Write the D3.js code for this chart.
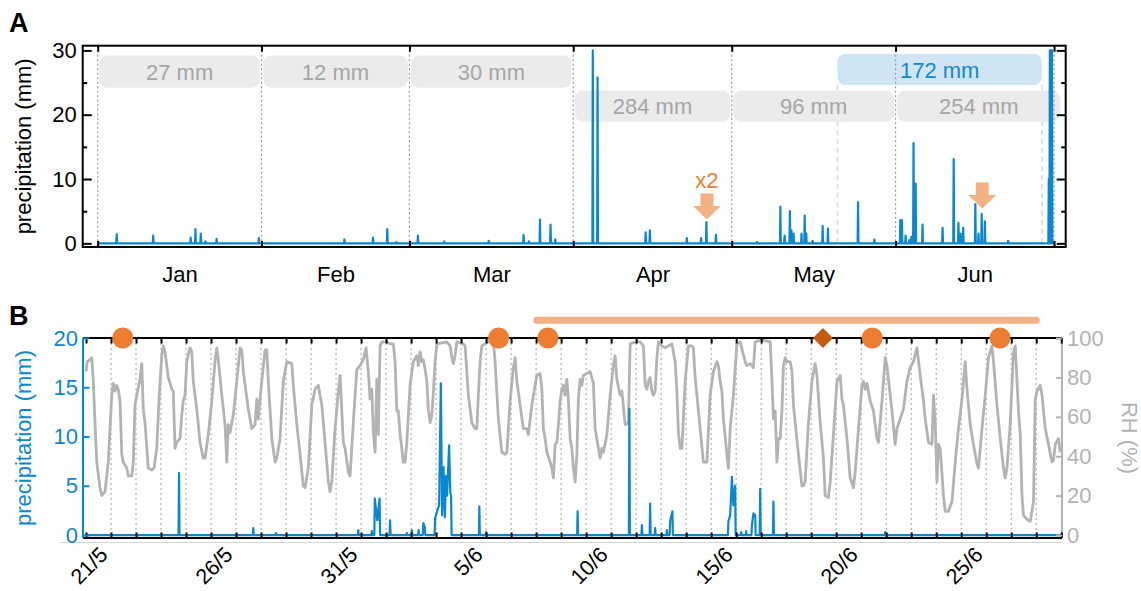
<!DOCTYPE html>
<html>
<head>
<meta charset="utf-8">
<script src="https://cdn.jsdelivr.net/npm/d3@7"></script>
<style>
  body { margin: 0; background: #fff; }
  svg { font-family: "Liberation Sans", Arial, Helvetica, sans-serif; }
</style>
</head>
<body>
<div id="container"></div>
<script>
/* DATA ########################################################### */
// Panel A: day of year (0 = 1 Jan, 00:00) of each rain peak, and its height (mm)
const rainDayA = [3.6, 10.5, 17.6, 18.5, 19.5, 20.4, 22.5, 30.5,
  46.7, 52.1, 54.8, 56.5,
  60.6, 65.6, 74.0, 80.6, 81.6, 83.7, 85.7, 86.6,
  93.7, 94.6, 103.7, 104.5, 111.5, 114.2, 115.2, 117.0,
  124.8, 129.2, 130.0, 131.0, 131.3, 131.7, 133.2, 133.8, 134.1, 135.3, 137.2, 138.2, 143.9, 147.0,
  151.9, 152.2, 152.9, 153.6, 154.0, 154.4, 154.8, 156.1, 159.9, 162.0, 162.9, 163.3, 163.8,
  166.1, 166.7, 167.3, 167.9, 172.3, 180.0, 180.2, 180.4, 180.6];
const rainMmA = [1.45, 1.2, 0.9, 2.2, 1.5, 0.3, 0.7, 0.8,
  0.6, 0.9, 2.2, 0.2,
  1.2, 0.3, 0.4, 1.3, 0.3, 3.7, 2.9, 0.6,
  30, 25.8, 1.7, 2.0, 0.8, 0.8, 3.3, 1.3,
  0.2, 5.7, 1.2, 5.0, 2.0, 1.5, 1.5, 4.3, 1.5, 0.4, 2.7, 2.3, 6.4, 0.6,
  3.6, 3.6, 1.2, 0.5, 1.0, 15.6, 9.3, 2.9, 2.4, 13.1, 3.2, 1.5, 2.4,
  6.1, 1.5, 4.6, 3.4, 0.4, 10, 30, 30, 30];

const monthNames = ["Jan", "Feb", "Mar", "Apr", "May", "Jun"];
const monthStart = [0, 31, 59, 90, 120, 151, 181];
const monthTotals = ["27 mm", "12 mm", "30 mm", "284 mm", "96 mm", "254 mm"];
const totalRow = [0, 0, 0, 1, 1, 1];
const lastBoxEnd = 182.2;
const fieldTotal = "172 mm";
const fieldRange = [140, 178.7];
const arrowDay = [115.3, 167.4];
const arrowTipMm = [3.7, 5.4];
const arrowText = ["x2", ""];

// Panel B: days since 21/5 00:00
const rhT = [-1.00, -0.95, -0.84, -0.77, -0.71, -0.64, -0.57, -0.44, -0.37, -0.24, -0.11,
  0.03, 0.09, 0.16, 0.23, 0.29, 0.36, 0.43, 0.49, 0.63, 0.69, 0.83, 0.89, 0.96,
  1.03, 1.16, 1.23, 1.29, 1.36, 1.49, 1.63, 1.72, 1.83, 1.93,
  2.03, 2.09, 2.16, 2.29, 2.43, 2.49, 2.56, 2.63, 2.76, 2.83, 2.89, 2.96,
  3.03, 3.16, 3.23, 3.29, 3.43, 3.56, 3.69, 3.76, 3.89,
  4.03, 4.16, 4.23, 4.29, 4.43, 4.56, 4.63, 4.69, 4.76, 4.89,
  5.03, 5.16, 5.23, 5.29, 5.49, 5.63, 5.76, 5.83, 5.89,
  6.03, 6.16, 6.23, 6.29, 6.43, 6.56, 6.63, 6.76, 6.89,
  7.03, 7.23, 7.29, 7.43, 7.56, 7.69, 7.76, 7.89,
  8.03, 8.16, 8.29, 8.43, 8.56, 8.69, 8.76, 8.83, 8.96,
  9.09, 9.16, 9.29, 9.36, 9.49, 9.56, 9.69, 9.83, 9.96,
  10.09, 10.20, 10.29, 10.36, 10.43, 10.49, 10.56, 10.63, 10.69, 10.76, 10.83,
  11.03, 11.16, 11.29, 11.36, 11.43, 11.49, 11.56, 11.63, 11.69, 11.76, 11.83, 11.96,
  12.03, 12.09, 12.23, 12.29, 12.36, 12.43, 12.49, 12.56, 12.63, 12.69, 12.76, 12.83, 12.89, 12.96,
  13.03, 13.43, 13.56, 13.63, 13.69, 13.76, 13.83,
  14.09, 14.16, 14.29, 14.43, 14.56, 14.63, 14.69, 14.76, 14.83, 14.96,
  15.09, 15.29, 15.36, 15.49, 15.63, 15.76, 15.83, 15.96,
  16.09, 16.16, 16.23, 16.36, 16.49, 16.63, 16.69, 16.83, 16.96,
  17.03, 17.16, 17.23, 17.29, 17.36, 17.43, 17.56, 17.63, 17.69, 17.76, 17.83, 17.89, 17.96,
  18.03, 18.09, 18.16, 18.23, 18.29, 18.36, 18.43, 18.49, 18.56, 18.63, 18.69, 18.76, 18.83, 18.89,
  19.03, 19.16, 19.29, 19.36, 19.49, 19.56, 19.63, 19.69, 19.83, 19.96,
  20.09, 20.16, 20.23, 20.36, 20.43, 20.56, 20.69, 20.76, 20.96,
  21.16, 21.29, 21.36, 21.43, 21.49, 21.56, 21.63, 21.69, 21.76, 21.83, 21.89,
  22.03, 22.16, 22.29, 22.43, 22.56, 22.63, 22.69, 22.76, 22.83, 22.96,
  23.09, 23.23, 23.29, 23.36, 23.56, 23.69, 23.83, 23.96,
  24.09, 24.23, 24.29, 24.36, 24.43, 24.49, 24.63, 24.69, 24.76, 24.89,
  25.03, 25.16, 25.36, 25.43, 25.56, 25.69, 25.76,
  26.03, 26.36, 26.43, 26.49, 26.56, 26.63, 26.69, 26.76, 26.83, 26.89, 26.96,
  27.03, 27.16, 27.23, 27.29, 27.36, 27.49, 27.63, 27.69, 27.76, 27.89,
  28.03, 28.16, 28.23, 28.36, 28.49, 28.56, 28.69, 28.76, 28.89,
  29.03, 29.16, 29.23, 29.29, 29.43, 29.56, 29.69, 29.76, 29.89,
  30.03, 30.09, 30.16, 30.23, 30.36, 30.49, 30.63, 30.69, 30.83, 30.96,
  31.03, 31.16, 31.23, 31.36, 31.43, 31.56, 31.69, 31.83, 31.96,
  32.09, 32.23, 32.36, 32.49, 32.56, 32.69, 32.83, 32.89, 32.96,
  33.03, 33.09, 33.16, 33.29, 33.36, 33.49, 33.63, 33.76, 33.89,
  34.03, 34.16, 34.23, 34.36, 34.49, 34.63, 34.69, 34.83, 34.96,
  35.09, 35.23, 35.29, 35.43, 35.56, 35.69, 35.76, 35.83, 35.96,
  36.09, 36.16, 36.29, 36.36, 36.43, 36.49, 36.63, 36.76, 36.89, 36.96,
  37.03, 37.16, 37.23, 37.36, 37.49, 37.63, 37.69, 37.76, 37.89, 37.96];
const rhVal = [83, 88, 89, 90, 79, 57, 37, 24, 20, 22, 37,
  71, 77, 73, 76, 74, 68, 41, 37, 34, 30, 30, 37, 66,
  71, 79, 87, 64, 57, 34, 33, 34, 44, 71,
  91, 96, 93, 80, 74, 73, 44, 47, 49, 61, 68, 71,
  88, 95, 93, 78, 64, 47, 39, 39, 51,
  68, 88, 95, 89, 71, 56, 37, 56, 52, 61,
  78, 95, 94, 83, 64, 54, 56, 69, 59,
  78, 94, 94, 78, 49, 37, 39, 49, 78,
  88, 87, 76, 56, 41, 25, 24, 34,
  66, 74, 76, 66, 47, 27, 22, 27, 54,
  73, 81, 47, 44, 32, 30, 57, 84, 86,
  89, 95, 83, 69, 74, 52, 42, 79, 51, 96, 98,
  98, 97, 97, 88, 63, 63, 51, 44, 37, 37, 47, 76,
  83, 88, 91, 86, 93, 88, 89, 84, 78, 64, 57, 61, 72, 88,
  97, 98, 96, 90, 87, 91, 98,
  97, 96, 71, 57, 54, 54, 71, 88, 96, 97,
  98, 98, 88, 59, 42, 41, 42, 68,
  85, 90, 78, 66, 54, 54, 51, 66, 76,
  81, 82, 74, 54, 49, 42, 37, 34, 29, 46, 47, 56, 68,
  74, 76, 71, 79, 69, 49, 44, 34, 27, 41, 69, 79, 76, 81,
  82, 83, 77, 54, 44, 39, 44, 42, 51, 71,
  86, 91, 79, 71, 73, 56, 57, 97, 98,
  98, 96, 76, 74, 78, 80, 73, 71, 73, 90, 98,
  96, 95, 96, 97, 88, 73, 52, 44, 44, 78,
  96, 96, 95, 80, 54, 37, 37, 71,
  83, 88, 86, 78, 73, 59, 41, 34, 54, 71,
  97, 98, 88, 86, 87, 85, 98,
  99, 98, 79, 59, 63, 37, 49, 49, 63, 86, 90,
  88, 88, 83, 66, 57, 41, 25, 25, 27, 57,
  78, 87, 81, 57, 39, 20, 19, 27, 51,
  78, 81, 69, 66, 49, 29, 24, 32, 54,
  76, 78, 74, 77, 68, 63, 49, 47, 68, 90,
  86, 71, 63, 46, 54, 59, 64, 78, 85,
  88, 95, 81, 68, 59, 47, 46, 71, 57,
  27, 46, 44, 20, 12, 12, 17, 37, 54,
  69, 88, 74, 56, 46, 36, 34, 54, 71,
  90, 96, 88, 66, 49, 34, 29, 34, 57,
  93, 96, 63, 51, 20, 10, 8, 7, 17, 69,
  73, 76, 71, 54, 46, 37, 38, 46, 49, 42];

const rainTB = [2.72, 5.69, 6.60, 9.89, 10.43, 10.55, 10.65, 10.74, 11.16, 11.83,
  12.03, 12.30, 12.49, 12.55, 12.96,
  13.05, 13.12, 13.19, 13.24, 13.30, 13.35, 13.40, 13.44, 13.52, 13.57, 13.60,
  14.73, 15.00, 18.66, 20.73, 21.23, 21.56, 21.76, 22.23, 22.36, 22.45,
  24.69, 24.76, 24.83, 24.89, 24.96, 25.20, 25.40, 25.63, 25.69, 25.76, 25.96, 26.49, 30.96];
const rainMmB = [6.3, 0.7, 0.2, 0.5, 0.4, 3.7, 1.5, 3.7, 1.5, 0.2,
  0.5, 0.5, 1.2, 0.8, 1.7,
  2.5, 3.0, 15.4, 2.0, 6.9, 1.8, 6.0, 4.0, 9.1, 4.2, 4.0,
  2.9, 0.3, 2.4, 12.8, 1.0, 3.2, 0.7, 0.5, 1.4, 2.4,
  1.4, 2.0, 5.9, 3.0, 5.0, 0.3, 0.4, 1.0, 2.2, 2.0, 4.7, 3.4, 0.3];

const dayLabelT = [0, 5, 10, 15, 20, 25, 30, 35];
const dayLabels = ["21/5", "26/5", "31/5", "5/6", "10/6", "15/6", "20/6", "25/6"];
const circleT = [0.47, 15.5, 17.47, 30.44, 35.55];
const diamondT = [28.47];
const campaignT = [17.03, 37.0];

/* CONSTANTS ####################################################### */
const width = 1141;
const height = 591;
const BLUE = "#0b87cf";
const GREY = "#b3b3b3";
const ORANGE = "#ed7d31";
const PEACH = "#f4b183";
const FS = 22;

const svg = d3
  .select("#container")
  .append("svg")
  .attr("width", width)
  .attr("height", height);

// spikes -> path points; back to zero only when the next peak is far enough away
function spikes(days, vals, start, end, dw, gapMin) {
  const pts = [[start, 0]];
  days.forEach((d, i) => {
    const prev = i > 0 ? days[i - 1] : -Infinity;
    const next = i < days.length - 1 ? days[i + 1] : Infinity;
    if (d - prev > gapMin) pts.push([d - dw, 0]);
    pts.push([d, vals[i]]);
    if (next - d > gapMin) pts.push([d + dw, 0]);
  });
  pts.push([end, 0]);
  return pts;
}

function styleAxis(g, color) {
  g.select(".domain").remove();
  g.attr("font-family", null).attr("font-size", FS);
  g.selectAll("line").attr("stroke", color).attr("stroke-width", 2);
  g.selectAll("text").attr("fill", color);
}

/* PANEL A ########################################################## */
const A = { left: 82.7, right: 1065.7, top: 45.7, bottom: 247 };
const xA = d3.scaleLinear().domain([-2.84, 183.2]).range([A.left, A.right]);
const yA = d3.scaleLinear().domain([-0.57, 30.73]).range([A.bottom, A.top]);

svg.append("clipPath").attr("id", "clipA").append("rect")
  .attr("x", A.left).attr("y", A.top)
  .attr("width", A.right - A.left).attr("height", A.bottom - A.top);

// dashed edges of the field campaign
svg.selectAll(".field-edge")
  .data(fieldRange)
  .join("line")
  .attr("class", "field-edge")
  .attr("x1", (d) => xA(d)).attr("x2", (d) => xA(d))
  .attr("y1", yA(24.6)).attr("y2", A.bottom)
  .attr("stroke", "#c4def0").attr("stroke-width", 1.5)
  .attr("stroke-dasharray", "5,4");

// monthly totals boxes
const rowTop = [29.2, 23.75];
const rowBottom = [24.2, 18.9];
const boxes = monthNames.map((m, i) => ({
  label: monthTotals[i],
  row: totalRow[i],
  x0: monthStart[i] + 0.3,
  x1: i < monthNames.length - 1 ? monthStart[i + 1] - 0.3 : lastBoxEnd,
}));

svg.selectAll(".total-box")
  .data(boxes)
  .join("rect")
  .attr("class", "total-box")
  .attr("x", (d) => xA(d.x0))
  .attr("y", (d) => yA(rowTop[d.row]))
  .attr("width", (d) => xA(d.x1) - xA(d.x0))
  .attr("height", (d) => yA(rowBottom[d.row]) - yA(rowTop[d.row]))
  .attr("rx", 8)
  .attr("fill", "#ebebeb");

svg.selectAll(".total-label")
  .data(boxes)
  .join("text")
  .attr("class", "total-label")
  .attr("x", (d) => (xA(d.x0) + xA(d.x1)) / 2)
  .attr("y", (d) => (yA(rowTop[d.row]) + yA(rowBottom[d.row])) / 2 + 8)
  .attr("text-anchor", "middle")
  .attr("font-size", FS)
  .attr("fill", "#a6a6a6")
  .text((d) => d.label);

// field campaign total
svg.append("rect")
  .attr("x", xA(fieldRange[0]))
  .attr("y", yA(29.45))
  .attr("width", xA(fieldRange[1]) - xA(fieldRange[0]))
  .attr("height", yA(24.6) - yA(29.45))
  .attr("rx", 8)
  .attr("fill", "#cfe5f4");
svg.append("text")
  .attr("x", (xA(fieldRange[0]) + xA(fieldRange[1])) / 2)
  .attr("y", (yA(29.45) + yA(24.6)) / 2 + 8)
  .attr("text-anchor", "middle")
  .attr("font-size", FS)
  .attr("fill", "#1488d0")
  .text(fieldTotal);

// month dividers
svg.selectAll(".month-line")
  .data(monthStart)
  .join("line")
  .attr("class", "month-line")
  .attr("x1", (d) => xA(d)).attr("x2", (d) => xA(d))
  .attr("y1", A.top).attr("y2", A.bottom)
  .attr("stroke", "#9a9a9a").attr("stroke-width", 1.2)
  .attr("stroke-dasharray", "2,2.5");

// precipitation
svg.append("path")
  .datum(spikes(rainDayA, rainMmA, 0, 181, 0.08, 0.16))
  .attr("clip-path", "url(#clipA)")
  .attr("fill", "none")
  .attr("stroke", BLUE)
  .attr("stroke-width", 2.2)
  .attr("stroke-linejoin", "round")
  .attr("d", d3.line().x((d) => xA(d[0])).y((d) => yA(d[1])));

// frame + ticks
svg.append("rect")
  .attr("x", A.left).attr("y", A.top)
  .attr("width", A.right - A.left).attr("height", A.bottom - A.top)
  .attr("fill", "none").attr("stroke", "black").attr("stroke-width", 2);

svg.append("g").attr("transform", `translate(${A.left},0)`)
  .call(d3.axisLeft(yA).tickValues([0, 10, 20, 30]).tickSizeInner(-9).tickSizeOuter(0).tickPadding(6))
  .call((g) => styleAxis(g, "black"));
svg.append("g").attr("transform", `translate(${A.left},0)`)
  .call(d3.axisLeft(yA).tickValues([5, 15, 25]).tickSize(-4.5).tickFormat(""))
  .call((g) => styleAxis(g, "black"));
svg.append("g").attr("transform", `translate(${A.right},0)`)
  .call(d3.axisRight(yA).tickValues([0, 10, 20, 30]).tickSize(-9).tickFormat(""))
  .call((g) => styleAxis(g, "black"));
svg.append("g").attr("transform", `translate(${A.right},0)`)
  .call(d3.axisRight(yA).tickValues([5, 15, 25]).tickSize(-4.5).tickFormat(""))
  .call((g) => styleAxis(g, "black"));
svg.append("g").attr("transform", `translate(0,${A.bottom})`)
  .call(d3.axisBottom(xA).tickValues(monthStart).tickSize(-6).tickFormat(""))
  .call((g) => styleAxis(g, "black"));
svg.append("g").attr("transform", `translate(0,${A.top})`)
  .call(d3.axisTop(xA).tickValues(monthStart).tickSize(-6).tickFormat(""))
  .call((g) => styleAxis(g, "black"));

const monthMid = monthNames.map((m, i) => (monthStart[i] + monthStart[i + 1]) / 2);
svg.append("g").attr("transform", `translate(0,${A.bottom})`)
  .call(d3.axisBottom(xA).tickValues(monthMid).tickSize(0).tickPadding(19)
    .tickFormat((d, i) => monthNames[i]))
  .call((g) => styleAxis(g, "black"));

svg.append("text")
  .attr("transform", `translate(31,${(A.top + A.bottom) / 2}) rotate(-90)`)
  .attr("text-anchor", "middle")
  .attr("font-size", FS)
  .text("precipitation (mm)");

// arrows marking events
const arrowPath = "M-6.5,-26 L6.5,-26 L6.5,-13.5 L14,-13.5 L0,0 L-14,-13.5 L-6.5,-13.5 Z";
svg.selectAll(".arrow")
  .data(arrowDay)
  .join("path")
  .attr("class", "arrow")
  .attr("transform", (d, i) => `translate(${xA(d)},${yA(arrowTipMm[i])})`)
  .attr("d", arrowPath)
  .attr("fill", PEACH);
svg.selectAll(".arrow-label")
  .data(arrowDay)
  .join("text")
  .attr("class", "arrow-label")
  .attr("x", (d) => xA(d))
  .attr("y", (d, i) => yA(arrowTipMm[i]) - 32)
  .attr("text-anchor", "middle")
  .attr("font-size", FS)
  .attr("fill", ORANGE)
  .text((d, i) => arrowText[i]);

svg.append("text").attr("x", 9).attr("y", 32)
  .attr("font-size", 27).attr("font-weight", "bold").text("A");

/* PANEL B ########################################################## */
const B = { left: 83, right: 1062, top: 338, bottom: 538 };
const xB = d3.scaleLinear().domain([-1.12, 38.03]).range([B.left, B.right]);
const yB = d3.scaleLinear().domain([-0.3, 20]).range([B.bottom, B.top]);
const yRH = d3.scaleLinear().domain([-1.5, 100]).range([B.bottom, B.top]);

svg.append("clipPath").attr("id", "clipB").append("rect")
  .attr("x", B.left).attr("y", B.top)
  .attr("width", B.right - B.left).attr("height", B.bottom - B.top);

// faint baseline under the panel
svg.append("line")
  .attr("x1", 60).attr("x2", B.right)
  .attr("y1", B.bottom + 4.5).attr("y2", B.bottom + 4.5)
  .attr("stroke", "#d6d6d6").attr("stroke-width", 1);

const allDays = d3.range(-1, 39);
svg.selectAll(".day-line")
  .data(d3.range(0, 38))
  .join("line")
  .attr("class", "day-line")
  .attr("x1", (d) => xB(d)).attr("x2", (d) => xB(d))
  .attr("y1", B.top).attr("y2", B.bottom)
  .attr("stroke", "#a0a0a0").attr("stroke-width", 1)
  .attr("stroke-dasharray", "2,3");

// relative humidity
const rhData = rhT.map((t, i) => [t, rhVal[i]]);
svg.append("path")
  .datum(rhData)
  .attr("clip-path", "url(#clipB)")
  .attr("fill", "none")
  .attr("stroke", GREY)
  .attr("stroke-width", 2.8)
  .attr("stroke-linejoin", "round")
  .attr("d", d3.line().x((d) => xB(d[0])).y((d) => yRH(d[1])));

// precipitation
svg.append("path")
  .datum(spikes(rainTB, rainMmB, -1.0, 38.03, 0.02, 0.1))
  .attr("clip-path", "url(#clipB)")
  .attr("fill", "none")
  .attr("stroke", BLUE)
  .attr("stroke-width", 2.2)
  .attr("stroke-linejoin", "round")
  .attr("d", d3.line().x((d) => xB(d[0])).y((d) => yB(d[1])));

// frame
svg.append("line").attr("x1", B.left).attr("x2", B.right).attr("y1", B.top).attr("y2", B.top)
  .attr("stroke", "black").attr("stroke-width", 2);
svg.append("line").attr("x1", B.left).attr("x2", B.right).attr("y1", B.bottom).attr("y2", B.bottom)
  .attr("stroke", "black").attr("stroke-width", 2);
svg.append("line").attr("x1", B.left).attr("x2", B.left).attr("y1", B.top).attr("y2", B.bottom)
  .attr("stroke", BLUE).attr("stroke-width", 2);
svg.append("line").attr("x1", B.right).attr("x2", B.right).attr("y1", B.top).attr("y2", B.bottom)
  .attr("stroke", GREY).attr("stroke-width", 2);

svg.append("g").attr("transform", `translate(0,${B.bottom})`)
  .call(d3.axisBottom(xB).tickValues(allDays).tickSize(-5.5).tickFormat(""))
  .call((g) => styleAxis(g, "black"));
svg.append("g").attr("transform", `translate(0,${B.top})`)
  .call(d3.axisTop(xB).tickValues(allDays).tickSize(-5.5).tickFormat(""))
  .call((g) => styleAxis(g, "black"));

svg.append("g").attr("transform", `translate(${B.left},0)`)
  .call(d3.axisLeft(yB).tickValues([0, 5, 10, 15, 20]).tickSizeInner(-6.5).tickSizeOuter(0).tickPadding(5))
  .call((g) => styleAxis(g, BLUE));
svg.append("g").attr("transform", `translate(${B.right},0)`)
  .call(d3.axisRight(yRH).tickValues([0, 20, 40, 60, 80, 100]).tickSizeInner(-6).tickSizeOuter(0).tickPadding(5))
  .call((g) => styleAxis(g, GREY));

svg.selectAll(".day-label")
  .data(dayLabelT)
  .join("text")
  .attr("class", "day-label")
  .attr("transform", (d) => `translate(${xB(d) - 2},556) rotate(-45)`)
  .attr("text-anchor", "end")
  .attr("font-size", 21.5)
  .text((d, i) => dayLabels[i]);

svg.append("text")
  .attr("transform", `translate(31,${(B.top + B.bottom) / 2}) rotate(-90)`)
  .attr("text-anchor", "middle")
  .attr("font-size", FS)
  .attr("fill", BLUE)
  .text("precipitation (mm)");
svg.append("text")
  .attr("transform", `translate(1122,${(B.top + B.bottom) / 2}) rotate(90)`)
  .attr("text-anchor", "middle")
  .attr("font-size", FS)
  .attr("fill", GREY)
  .text("RH (%)");

// campaign bar and event markers
svg.append("line")
  .attr("x1", xB(campaignT[0])).attr("x2", xB(campaignT[1]))
  .attr("y1", yB(21.8)).attr("y2", yB(21.8))
  .attr("stroke", PEACH).attr("stroke-width", 7).attr("stroke-linecap", "round");

svg.selectAll(".event-dot")
  .data(circleT)
  .join("circle")
  .attr("class", "event-dot")
  .attr("cx", (d) => xB(d))
  .attr("cy", yB(20))
  .attr("r", 10.5)
  .attr("fill", ORANGE);

svg.selectAll(".event-diamond")
  .data(diamondT)
  .join("path")
  .attr("class", "event-diamond")
  .attr("transform", (d) => `translate(${xB(d)},${yB(20)})`)
  .attr("d", "M0,-10 L10,0 L0,10 L-10,0 Z")
  .attr("fill", "#c55a11");

svg.append("text").attr("x", 9).attr("y", 325)
  .attr("font-size", 27).attr("font-weight", "bold").text("B");
</script>
</body>
</html>
